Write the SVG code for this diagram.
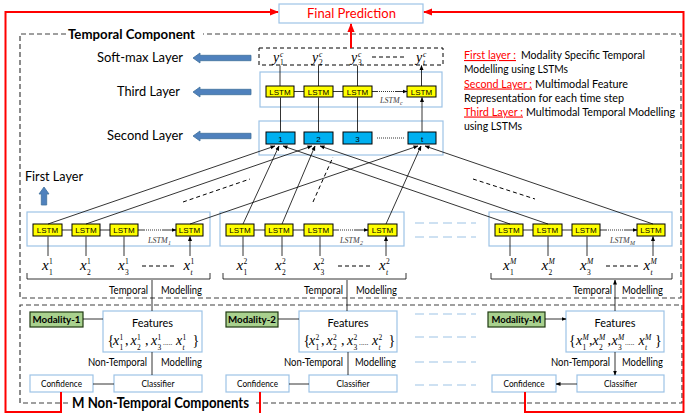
<svg xmlns="http://www.w3.org/2000/svg" width="687" height="413" viewBox="0 0 687 413">
<defs>
<marker id="ar" viewBox="0 0 10 10" refX="9" refY="5" markerWidth="5" markerHeight="5" markerUnits="userSpaceOnUse" orient="auto"><path d="M0,1 L10,5 L0,9 z" fill="#000"/></marker>
<marker id="arR" viewBox="0 0 10 10" refX="9" refY="5" markerWidth="9" markerHeight="9" markerUnits="userSpaceOnUse" orient="auto"><path d="M0,1 L10,5 L0,9 z" fill="#ff0000"/></marker>
<style>
.t{font-family:Lato,'Liberation Sans',sans-serif;fill:#000}
.lb{fill:#fff;stroke:#9dc3e6;stroke-width:1.2}
.lstm{fill:#ffff00;stroke:#000;stroke-width:1}
.sq{fill:#00b0f0;stroke:#000;stroke-width:1}
.lt{font-family:'Liberation Sans',Arial,sans-serif;font-size:8px;text-anchor:middle}
.ln{stroke:#000;stroke-width:0.8;fill:none}
.dot{stroke:#000;stroke-width:0.8;stroke-dasharray:1,1;fill:none}
.dsh{stroke:#000;stroke-width:1;stroke-dasharray:4,3;fill:none}
.comp{fill:none;stroke:#404040;stroke-width:1.2;stroke-dasharray:5,3}
.red{stroke:#ff0000;stroke-width:2;fill:none}
.ldb{stroke:#9dc3e6;stroke-width:1.2;stroke-dasharray:9,5;fill:none}
.barrow{fill:#4f81bd;stroke:#41719c;stroke-width:0.8}
.mod{fill:#a9d18e;stroke:#203a12;stroke-width:1.2}
.mx{font-family:'Liberation Serif',serif;font-style:italic;font-size:15px}
.mf{font-family:'Liberation Serif',serif;font-style:italic;font-size:14px}
.ms{font-family:'Liberation Serif',serif;font-size:7.5px}
.msi{font-family:'Liberation Serif',serif;font-style:italic;font-size:7.5px}
.br{font-family:'Liberation Serif',serif;font-size:14px}
.ll{font-family:'Liberation Serif',serif;font-style:italic;font-size:8px;fill:#404040}
.lls{font-family:'Liberation Serif',serif;font-style:italic;font-size:6px;fill:#404040}
.rt{font-family:Lato,'Liberation Sans',sans-serif;font-size:11px}
.rd{fill:#ff0000;text-decoration:underline}
</style>
</defs>
<rect width="687" height="413" fill="#fff"/>

<g id="temporal-component">
<path class="comp" d="M66,34 H20 V298 H681 V34 H203"/>
<text class="t" x="68" y="38.5" font-size="14" font-weight="bold" textLength="127" lengthAdjust="spacingAndGlyphs">Temporal Component</text>
</g>
<g id="non-temporal-components">
<path class="comp" d="M68,403 H20 V305 H682 V403 H256"/>
<text class="t" x="72" y="408" font-size="15" font-weight="bold" textLength="177" lengthAdjust="spacingAndGlyphs">M Non-Temporal Components</text>
</g>

<g id="final-prediction">
<rect class="lb" x="279" y="4" width="144" height="19"/>
<text class="t" x="351.5" y="18" font-size="14" style="fill:#ff0000" text-anchor="middle" textLength="89" lengthAdjust="spacingAndGlyphs">Final Prediction</text>
</g>

<g id="layer-labels">
<text class="t" x="97" y="62" font-size="14" textLength="86" lengthAdjust="spacingAndGlyphs">Soft-max Layer</text>
<text class="t" x="117" y="95.5" font-size="14" textLength="63" lengthAdjust="spacingAndGlyphs">Third Layer</text>
<text class="t" x="107" y="139.5" font-size="14" textLength="76" lengthAdjust="spacingAndGlyphs">Second Layer</text>
<text class="t" x="25" y="180.5" font-size="14" textLength="58" lengthAdjust="spacingAndGlyphs">First Layer</text>
<polygon class="barrow" points="193,58 200,53 200,55.3 251,55.3 251,60.7 200,60.7 200,63"/>
<polygon class="barrow" points="193,92 200,87 200,89.3 251,89.3 251,94.7 200,94.7 200,97"/>
<polygon class="barrow" points="193,136 200,131 200,133.3 251,133.3 251,138.7 200,138.7 200,141"/>
<polygon class="barrow" points="44,187 49,194 46.7,194 46.7,205 41.3,205 41.3,194 39,194"/>
</g>

<g id="legend">
<text class="rt rd" x="464" y="59" textLength="52" lengthAdjust="spacingAndGlyphs">First layer :</text>
<text class="rt" x="521" y="59" textLength="124" lengthAdjust="spacingAndGlyphs">Modality Specific Temporal</text>
<text class="rt" x="464" y="73" textLength="104" lengthAdjust="spacingAndGlyphs">Modelling using LSTMs</text>
<text class="rt rd" x="464" y="87.5" textLength="68" lengthAdjust="spacingAndGlyphs">Second Layer :</text>
<text class="rt" x="535" y="87.5" textLength="93" lengthAdjust="spacingAndGlyphs">Multimodal Feature</text>
<text class="rt" x="464" y="101.5" textLength="160" lengthAdjust="spacingAndGlyphs">Representation for each time step</text>
<text class="rt rd" x="464" y="115.5" textLength="59" lengthAdjust="spacingAndGlyphs">Third Layer :</text>
<text class="rt" x="526" y="115.5" textLength="149" lengthAdjust="spacingAndGlyphs">Multimodal Temporal Modelling</text>
<text class="rt" x="464" y="129.5" textLength="58" lengthAdjust="spacingAndGlyphs">using LSTMs</text>
</g>

<g id="softmax-layer">
<rect x="259" y="48" width="184" height="17" fill="#fff" stroke="#000" stroke-width="1" stroke-dasharray="4,3"/>
<text class="mf" x="273" y="62">y</text><text class="msi" x="280" y="56.5" font-size="7">c</text><text class="ms" x="280" y="65" font-size="7">1</text>
<text class="mf" x="312" y="62">y</text><text class="msi" x="319" y="56.5" font-size="7">c</text><text class="ms" x="319" y="65" font-size="7">2</text>
<text class="mf" x="351" y="62">y</text><text class="msi" x="358" y="56.5" font-size="7">c</text><text class="ms" x="358" y="65" font-size="7">3</text>
<path class="dsh" d="M372,57 H404"/>
<text class="mf" x="416" y="62">y</text><text class="msi" x="423" y="56.5" font-size="7">c</text><text class="msi" x="423" y="65" font-size="7">t</text>
</g>

<g id="third-layer">
<rect class="lb" x="260" y="72" width="182" height="35"/>
<rect class="lstm" x="266" y="86" width="28" height="11"/><text class="lt" x="280" y="94.5">LSTM</text>
<rect class="lstm" x="304" y="86" width="29" height="11"/><text class="lt" x="318.5" y="94.5">LSTM</text>
<rect class="lstm" x="343" y="86" width="29" height="11"/><text class="lt" x="357.5" y="94.5">LSTM</text>
<rect class="lstm" x="407" y="86" width="29" height="11"/><text class="lt" x="421.5" y="94.5">LSTM</text>
<text class="ll" x="380" y="103">LSTM</text><text class="lls" x="400" y="105">c</text>
</g>

<g id="second-layer">
<rect class="lb" x="259" y="121" width="184" height="34"/>
<rect class="sq" x="266" y="132" width="29" height="12"/><text class="lt" x="280.5" y="141.5" font-size="9">1</text>
<rect class="sq" x="304" y="132" width="29" height="12"/><text class="lt" x="318.5" y="141.5" font-size="9">2</text>
<rect class="sq" x="343" y="132" width="29" height="12"/><text class="lt" x="357.5" y="141.5" font-size="9">3</text>
<rect class="sq" x="408" y="132" width="28" height="12"/><text class="lt" x="422" y="141.5" font-size="9">t</text>
</g>

<g id="lstm-group-1">
<rect class="lb" x="27" y="212" width="183" height="34"/>
<rect class="lstm" x="33" y="224" width="29" height="12"/><text class="lt" x="47.5" y="233">LSTM</text>
<rect class="lstm" x="72" y="224" width="28" height="12"/><text class="lt" x="86" y="233">LSTM</text>
<rect class="lstm" x="110" y="224" width="28" height="12"/><text class="lt" x="124" y="233">LSTM</text>
<rect class="lstm" x="176" y="224" width="27" height="12"/><text class="lt" x="189.5" y="233">LSTM</text>
<text class="ll" x="148" y="243">LSTM</text><text class="lls" x="168" y="245">1</text>
<text class="mx" x="42" y="270">x</text><text class="ms" x="49" y="264">1</text><text class="ms" x="49" y="274.5">1</text>
<text class="mx" x="80" y="270">x</text><text class="ms" x="87" y="264">1</text><text class="ms" x="87" y="274.5">2</text>
<text class="mx" x="118" y="270">x</text><text class="ms" x="125" y="264">1</text><text class="ms" x="125" y="274.5">3</text>
<path class="dsh" d="M142,266 H174"/>
<text class="mx" x="183.5" y="270">x</text><text class="ms" x="190.5" y="264">1</text><text class="msi" x="190.5" y="274.5">t</text>
</g>
<g id="lstm-group-2">
<rect class="lb" x="220" y="212" width="184" height="34"/>
<rect class="lstm" x="226" y="224" width="28" height="12"/><text class="lt" x="240" y="233">LSTM</text>
<rect class="lstm" x="265" y="224" width="28" height="12"/><text class="lt" x="279" y="233">LSTM</text>
<rect class="lstm" x="304" y="224" width="29" height="12"/><text class="lt" x="318.5" y="233">LSTM</text>
<rect class="lstm" x="368" y="224" width="29" height="12"/><text class="lt" x="382.5" y="233">LSTM</text>
<text class="ll" x="340" y="243">LSTM</text><text class="lls" x="360" y="245">2</text>
<text class="mx" x="236.5" y="270">x</text><text class="ms" x="243.5" y="264">2</text><text class="ms" x="243.5" y="274.5">1</text>
<text class="mx" x="275" y="270">x</text><text class="ms" x="282" y="264">2</text><text class="ms" x="282" y="274.5">2</text>
<text class="mx" x="313.5" y="270">x</text><text class="ms" x="320.5" y="264">2</text><text class="ms" x="320.5" y="274.5">3</text>
<path class="dsh" d="M338,266 H370"/>
<text class="mx" x="379" y="270">x</text><text class="ms" x="386" y="264">2</text><text class="msi" x="386" y="274.5">t</text>
</g>
<g id="lstm-group-M">
<rect class="lb" x="489" y="212" width="183" height="34"/>
<rect class="lstm" x="495" y="224" width="28" height="12"/><text class="lt" x="509" y="233">LSTM</text>
<rect class="lstm" x="533" y="224" width="29" height="12"/><text class="lt" x="547.5" y="233">LSTM</text>
<rect class="lstm" x="572" y="224" width="28" height="12"/><text class="lt" x="586" y="233">LSTM</text>
<rect class="lstm" x="637" y="224" width="28" height="12"/><text class="lt" x="651" y="233">LSTM</text>
<text class="ll" x="610" y="243">LSTM</text><text class="lls" x="630" y="245">M</text>
<text class="mx" x="503" y="270">x</text><text class="msi" x="510" y="264">M</text><text class="ms" x="510" y="274.5">1</text>
<text class="mx" x="541.5" y="270">x</text><text class="msi" x="548.5" y="264">M</text><text class="ms" x="548.5" y="274.5">2</text>
<text class="mx" x="580" y="270">x</text><text class="msi" x="587" y="264">M</text><text class="ms" x="587" y="274.5">3</text>
<path class="dsh" d="M606,266 H638"/>
<text class="mx" x="643.5" y="270">x</text><text class="msi" x="650.5" y="264">M</text><text class="msi" x="650.5" y="274.5">t</text>
</g>

<g id="temporal-modelling-labels">
<text class="t" x="148" y="294" font-size="11" text-anchor="end" textLength="39" lengthAdjust="spacingAndGlyphs">Temporal</text>
<text class="t" x="161" y="294" font-size="11" textLength="41" lengthAdjust="spacingAndGlyphs">Modelling</text>
<text class="t" x="343" y="294" font-size="11" text-anchor="end" textLength="39" lengthAdjust="spacingAndGlyphs">Temporal</text>
<text class="t" x="356" y="294" font-size="11" textLength="41" lengthAdjust="spacingAndGlyphs">Modelling</text>
<text class="t" x="612" y="294" font-size="11" text-anchor="end" textLength="39" lengthAdjust="spacingAndGlyphs">Temporal</text>
<text class="t" x="622" y="294" font-size="11" textLength="41" lengthAdjust="spacingAndGlyphs">Modelling</text>
</g>

<g id="continuation-dashes">
<path class="ldb" d="M415,223 H476 M415,237 H476"/>
<path class="ldb" d="M415,314 H476 M415,337 H476 M415,362 H476 M415,385 H476"/>
</g>

<g id="modality-1"><rect class="mod" x="30" y="312" width="53" height="15"/><text class="t" x="56.5" y="323" font-size="10" font-weight="bold" text-anchor="middle" textLength="48" lengthAdjust="spacingAndGlyphs">Modality-1</text></g>
<g id="features-1">
<rect class="lb" x="103" y="311" width="99" height="41"/>
<text class="t" x="152.5" y="327" font-size="12" text-anchor="middle" textLength="41" lengthAdjust="spacingAndGlyphs">Features</text>
<text class="br" x="107.5" y="345">{</text>
<text class="mf" x="113" y="345">x</text><text class="ms" x="119.5" y="339.5">1</text><text class="ms" x="119.5" y="349.5">1</text>
<text class="br" x="125" y="345">,</text>
<text class="mf" x="130.5" y="345">x</text><text class="ms" x="137" y="339.5">1</text><text class="ms" x="137" y="349.5">2</text>
<text class="br" x="145" y="345">,</text>
<text class="mf" x="151" y="345">x</text><text class="ms" x="157.5" y="339.5">1</text><text class="ms" x="157.5" y="349.5">3</text>
<text class="ms" x="163" y="345" font-size="8">.....</text>
<text class="mf" x="176" y="345">x</text><text class="ms" x="182.5" y="339.5">1</text><text class="msi" x="182.5" y="349.5">t</text>
<text class="br" x="192.5" y="345">}</text>
</g>
<g id="classifier-1"><rect class="lb" x="114" y="375" width="88" height="17"/><text class="t" x="158" y="387" font-size="10" text-anchor="middle" textLength="33" lengthAdjust="spacingAndGlyphs">Classifier</text></g>
<g id="confidence-1"><rect class="lb" x="30" y="375" width="63" height="17"/><text class="t" x="61.5" y="387" font-size="10" text-anchor="middle" textLength="41" lengthAdjust="spacingAndGlyphs">Confidence</text></g>
<text class="t" x="147" y="366" font-size="11" text-anchor="end" textLength="59" lengthAdjust="spacingAndGlyphs">Non-Temporal</text>
<text class="t" x="161" y="366" font-size="11" textLength="41" lengthAdjust="spacingAndGlyphs">Modelling</text>

<g id="modality-2"><rect class="mod" x="226" y="312" width="52" height="15"/><text class="t" x="252" y="323" font-size="10" font-weight="bold" text-anchor="middle" textLength="48" lengthAdjust="spacingAndGlyphs">Modality-2</text></g>
<g id="features-2">
<rect class="lb" x="299" y="311" width="98" height="41"/>
<text class="t" x="348" y="327" font-size="12" text-anchor="middle" textLength="41" lengthAdjust="spacingAndGlyphs">Features</text>
<text class="br" x="303.5" y="345">{</text>
<text class="mf" x="309" y="345">x</text><text class="ms" x="315.5" y="339.5">2</text><text class="ms" x="315.5" y="349.5">1</text>
<text class="br" x="321" y="345">,</text>
<text class="mf" x="326.5" y="345">x</text><text class="ms" x="333" y="339.5">2</text><text class="ms" x="333" y="349.5">2</text>
<text class="br" x="341" y="345">,</text>
<text class="mf" x="347" y="345">x</text><text class="ms" x="353.5" y="339.5">2</text><text class="ms" x="353.5" y="349.5">3</text>
<text class="ms" x="359" y="345" font-size="8">.....</text>
<text class="mf" x="372" y="345">x</text><text class="ms" x="378.5" y="339.5">2</text><text class="msi" x="378.5" y="349.5">t</text>
<text class="br" x="388.5" y="345">}</text>
</g>
<g id="classifier-2"><rect class="lb" x="309" y="375" width="88" height="17"/><text class="t" x="353" y="387" font-size="10" text-anchor="middle" textLength="33" lengthAdjust="spacingAndGlyphs">Classifier</text></g>
<g id="confidence-2"><rect class="lb" x="226" y="375" width="63" height="17"/><text class="t" x="257.5" y="387" font-size="10" text-anchor="middle" textLength="41" lengthAdjust="spacingAndGlyphs">Confidence</text></g>
<text class="t" x="343" y="366" font-size="11" text-anchor="end" textLength="59" lengthAdjust="spacingAndGlyphs">Non-Temporal</text>
<text class="t" x="355" y="366" font-size="11" textLength="41" lengthAdjust="spacingAndGlyphs">Modelling</text>

<g id="modality-M"><rect class="mod" x="488" y="312" width="57" height="15"/><text class="t" x="516.5" y="323" font-size="10" font-weight="bold" text-anchor="middle" textLength="50" lengthAdjust="spacingAndGlyphs">Modality-M</text></g>
<g id="features-M">
<rect class="lb" x="566" y="311" width="98" height="41"/>
<text class="t" x="615" y="327" font-size="12" text-anchor="middle" textLength="41" lengthAdjust="spacingAndGlyphs">Features</text>
<text class="br" x="569" y="345">{</text>
<text class="mf" x="576" y="345">x</text><text class="msi" x="582.5" y="339.5" font-size="7">M</text><text class="ms" x="582.5" y="349.5">1</text>
<text class="br" x="589" y="345">,</text>
<text class="mf" x="592.5" y="345">x</text><text class="msi" x="599" y="339.5" font-size="7">M</text><text class="ms" x="599" y="349.5">2</text>
<text class="br" x="607.5" y="345">,</text>
<text class="mf" x="611.5" y="345">x</text><text class="msi" x="618" y="339.5" font-size="7">M</text><text class="ms" x="618" y="349.5">3</text>
<text class="ms" x="625" y="345" font-size="8">.....</text>
<text class="mf" x="638.5" y="345">x</text><text class="msi" x="645" y="339.5" font-size="7">M</text><text class="msi" x="645" y="349.5">t</text>
<text class="br" x="655" y="345">}</text>
</g>
<g id="classifier-M"><rect class="lb" x="577" y="375" width="87" height="17"/><text class="t" x="620.5" y="387" font-size="10" text-anchor="middle" textLength="33" lengthAdjust="spacingAndGlyphs">Classifier</text></g>
<g id="confidence-M"><rect class="lb" x="492" y="375" width="64" height="17"/><text class="t" x="524" y="387" font-size="10" text-anchor="middle" textLength="41" lengthAdjust="spacingAndGlyphs">Confidence</text></g>
<text class="t" x="610" y="366" font-size="11" text-anchor="end" textLength="59" lengthAdjust="spacingAndGlyphs">Non-Temporal</text>
<text class="t" x="622" y="366" font-size="11" textLength="41" lengthAdjust="spacingAndGlyphs">Modelling</text>

<g id="connectors">
<path class="ln" marker-end="url(#ar)" d="M280,86 V65.5 M318.5,86 V65.5 M357.5,86 V65.5 M421.5,86 V65.5"/>
<path class="ln" marker-end="url(#ar)" d="M280.5,132 V97.5 M318.5,132 V97.5 M357.5,132 V97.5 M422,132 V97.5"/>
<path class="ln" marker-end="url(#ar)" d="M294,91.5 H304 M333,91.5 H343 M395,91.5 H407"/>
<path class="ln" d="M372,91.5 H377"/><path class="dot" d="M377,91.5 H395"/>
<path class="dot" d="M377,138 H404"/>
<path class="ln" marker-end="url(#ar)" d="M62,230 H72 M100,230 H110 M162,230 H176"/>
<path class="ln" d="M138,230 H144"/><path class="dot" d="M144,230 H162"/>
<path class="ln" marker-end="url(#ar)" d="M254,230 H265 M293,230 H304 M355,230 H368"/>
<path class="ln" d="M333,230 H338"/><path class="dot" d="M338,230 H355"/>
<path class="ln" marker-end="url(#ar)" d="M523,230 H533 M562,230 H572 M624,230 H637"/>
<path class="ln" d="M600,230 H606"/><path class="dot" d="M606,230 H624"/>
<path class="ln" marker-end="url(#ar)" d="M48,256 V236.5 M86,256 V236.5 M124,256 V236.5 M190,256 V236.5"/>
<path class="ln" marker-end="url(#ar)" d="M243,256 V236.5 M282,256 V236.5 M320,256 V236.5 M386,256 V236.5"/>
<path class="ln" marker-end="url(#ar)" d="M510,256 V236.5 M548,256 V236.5 M587,256 V236.5 M653,256 V236.5"/>
<path class="ln" marker-end="url(#ar)" d="M48,224 L275,146"/>
<path class="ln" marker-end="url(#ar)" d="M86,224 L312,146"/>
<path class="ln" marker-end="url(#ar)" d="M190,224 L418,146"/>
<path class="ln" marker-end="url(#ar)" d="M243,224 L279,146"/>
<path class="ln" marker-end="url(#ar)" d="M282,224 L315,146"/>
<path class="ln" marker-end="url(#ar)" d="M386,224 L421,146"/>
<path class="ln" marker-end="url(#ar)" d="M510,224 L283,146"/>
<path class="ln" marker-end="url(#ar)" d="M548,224 L320,146"/>
<path class="ln" marker-end="url(#ar)" d="M653,224 L425,146"/>
<path class="dsh" d="M183,202 L250,179 M313,202 L333,157 M473,179 L535,199"/>
<path class="ln" d="M27,273 V279 H210 V273 M223,273 V279 H406 V273 M491,273 V279 H672 V273"/>
<path class="ln" marker-end="url(#ar)" d="M152,311 V280 M347,311 V280 M615,311 V280"/>
<path class="ln" marker-end="url(#ar)" d="M83,319 H103 M278,319 H299 M545,319 H566"/>
<path class="ln" marker-end="url(#ar)" d="M152,352 V375 M348,352 V375 M615,352 V375"/>
<path class="ln" marker-end="url(#ar)" d="M114,384 H93 M309,384 H289 M577,384 H556"/>
<path class="red" marker-end="url(#arR)" d="M351,48 V24"/>
<path class="red" marker-end="url(#arR)" d="M61,392 V412 H5.5 V12 H278"/>
<path class="red" marker-end="url(#arR)" d="M525,392 V412 H683.5 V12 H424"/>
<path class="red" d="M260,392 V413"/>
</g>
</svg>
